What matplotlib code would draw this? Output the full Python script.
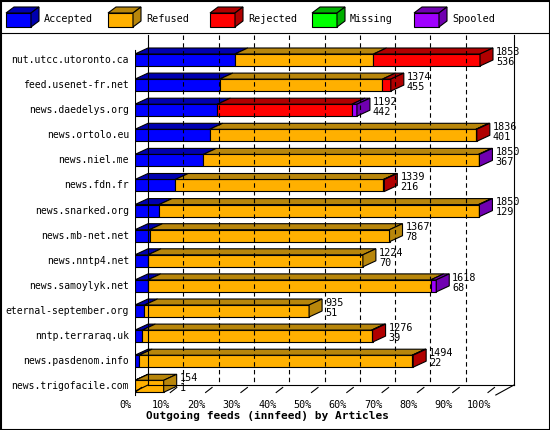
import matplotlib
matplotlib.use("Agg")
import matplotlib.pyplot as plt
from matplotlib.patches import Polygon, Rectangle

hosts = ["nut.utcc.utoronto.ca", "feed.usenet-fr.net", "news.daedelys.org", "news.ortolo.eu",
         "news.niel.me", "news.fdn.fr", "news.snarked.org", "news.mb-net.net", "news.nntp4.net",
         "news.samoylyk.net", "eternal-september.org", "nntp.terraraq.uk", "news.pasdenom.info",
         "news.trigofacile.com"]
accepted = [536, 455, 442, 401, 367, 216, 129, 78, 70, 68, 51, 39, 22, 1]
refused = [745, 874, 0, 1430, 1478, 1118, 1716, 1289, 1154, 1520, 884, 1232, 1467, 153]
rejected = [572, 45, 723, 5, 0, 5, 0, 0, 0, 0, 0, 5, 5, 0]
missing = [0] * 14
spooled = [0, 0, 27, 0, 5, 0, 5, 0, 0, 30, 0, 0, 0, 0]
totals = [1853, 1374, 1192, 1836, 1850, 1339, 1850, 1367, 1224, 1618, 935, 1276, 1494, 154]
series_names = ["Accepted", "Refused", "Rejected", "Missing", "Spooled"]
front_cols = ["#0000FF", "#FFB000", "#FF0000", "#00FF00", "#A000FF"]
dark_cols = ["#0000B0", "#B8860B", "#B00000", "#00B000", "#7000B0"]
pct_ticks = [0, 10, 20, 30, 40, 50, 60, 70, 80, 90, 100]

W, H = 550, 430
SCALE = 1896.0  # value at 100%
fig = plt.figure(figsize=(W / 100, H / 100), dpi=100)
fig.patch.set_facecolor("white")
mono = "DejaVu Sans Mono"
FS = 7.3

px0, px1, py0, py1 = 135, 530, 30, 400
ax = fig.add_axes([px0 / W, 1 - py1 / H, (px1 - px0) / W, (py1 - py0) / H])
ppv = 353.0 / SCALE
ax.set_xlim(0, (px1 - px0) / ppv)
rp = 25.1
ax.set_ylim((py1 - 60) / rp, (py0 - 60) / rp)
ax.axis("off")
dx = 13 / ppv
dy = 6 / rp
hh = 6 / rp
L = dict(lw=0.8, edgecolor="black")

nrow = len(hosts)
floor_front = (395 - 60) / rp
floor_back = floor_front - 10 / rp
top_back = (35 - 60) / rp
xmax = SCALE
ax.plot([0, 0], [(50 - 60) / rp, floor_front], color="black", lw=0.8)
ax.plot([dx, dx], [top_back, floor_back], color="black", lw=0.8)
ax.plot([xmax + 2 * dx, xmax + 2 * dx], [top_back, floor_back], color="black", lw=0.8)
ax.plot([dx, xmax + 2 * dx], [floor_back, floor_back], color="black", lw=0.8)
ax.plot([-dx * 0.6, dx], [floor_front, floor_back], color="black", lw=0.8)
ax.plot([xmax + dx * 0.6, xmax + 2 * dx], [floor_front, floor_back], color="black", lw=0.8)
for p in pct_ticks[1:-1]:
    v = p / 100 * SCALE
    ax.plot([v + dx, v + dx], [top_back, floor_back], color="black", lw=0.8, ls=(0, (4, 3)))
for p in pct_ticks:
    v = p / 100 * SCALE
    ax.plot([v, v + dx * 0.5], [floor_front - 0.1, floor_front - 0.3], color="black", lw=0.8)
    ax.text(v - 9 / ppv, floor_front + 0.2, f"{p}%", ha="center", va="top", fontsize=FS, family=mono)

for i in range(nrow):
    yc = i
    ytop, ybot = yc - hh, yc + hh
    segs = [accepted[i], refused[i], rejected[i], missing[i], spooled[i]]
    x = 0
    last = 0
    for k, s in enumerate(segs):
        if s <= 0:
            continue
        ax.add_patch(Rectangle((x, ytop), s, ybot - ytop, facecolor=front_cols[k], **L))
        ax.add_patch(Polygon([(x, ytop), (x + s, ytop), (x + s + dx, ytop - dy), (x + dx, ytop - dy)],
                             facecolor=dark_cols[k], **L))
        x += s
        last = k
    ax.add_patch(Polygon([(x, ytop), (x + dx, ytop - dy), (x + dx, ybot - dy), (x, ybot)],
                         facecolor=dark_cols[last], **L))
    ax.text(x + dx + 3 / ppv, ytop - dy - 0.05, f"{totals[i]}\n{accepted[i]}", ha="left", va="top",
            fontsize=FS, family=mono, linespacing=1.0)
    fig.text(129 / W, 1 - (60 + rp * i) / H, hosts[i], ha="right", va="center", fontsize=7.0, family=mono)

fig.text(267 / W, 1 - 416 / H, "Outgoing feeds (innfeed) by Articles", ha="center", va="center",
         fontsize=8, family=mono, weight="bold")

lax = fig.add_axes([0, 0, 1, 1])
lax.set_xlim(0, W); lax.set_ylim(H, 0); lax.axis("off")
for k, name in enumerate(series_names):
    x0 = 6 + 102 * k
    lax.add_patch(Rectangle((x0, 13), 25, 14, facecolor=front_cols[k], lw=0.8, edgecolor="black"))
    lax.add_patch(Polygon([(x0, 13), (x0 + 25, 13), (x0 + 33, 7), (x0 + 8, 7)], facecolor=dark_cols[k], lw=0.8, edgecolor="black"))
    lax.add_patch(Polygon([(x0 + 25, 13), (x0 + 33, 7), (x0 + 33, 21), (x0 + 25, 27)], facecolor=dark_cols[k], lw=0.8, edgecolor="black"))
    lax.text(x0 + 38, 19, name, ha="left", va="center", fontsize=FS, family=mono)
lax.plot([0, W], [33, 33], color="black", lw=0.8)
lax.add_patch(Rectangle((0.5, 0.5), W - 1, H - 1, fill=False, lw=1.5, edgecolor="black"))

fig.savefig("out.png", dpi=100)
